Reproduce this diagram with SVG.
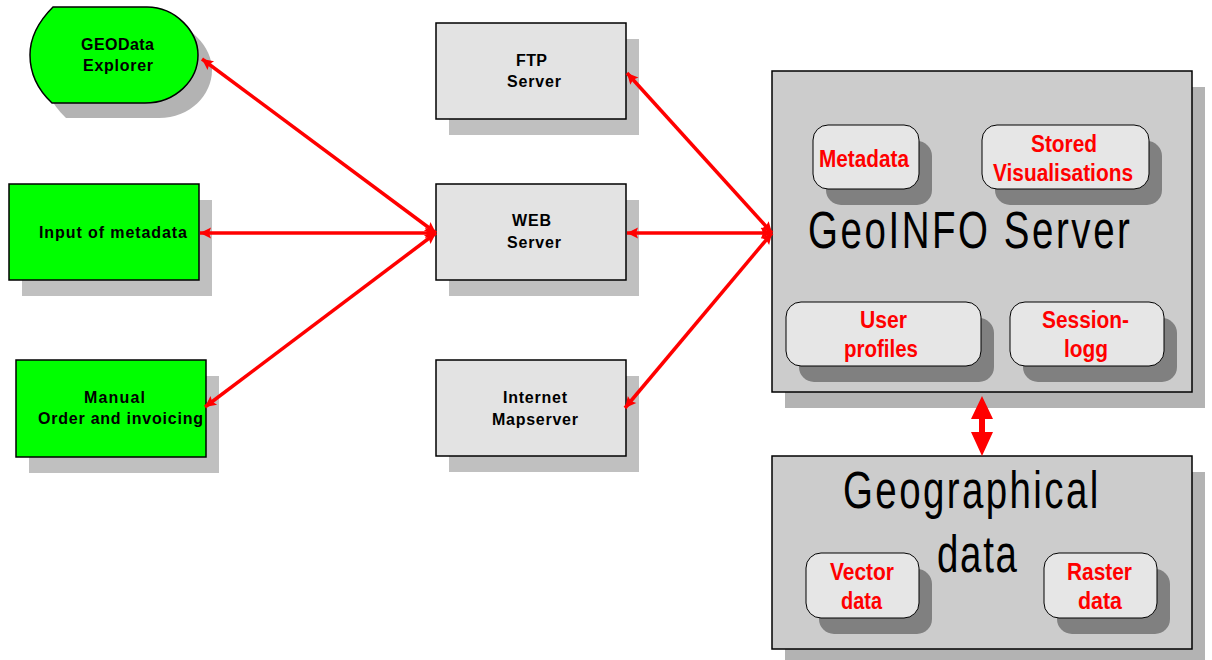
<svg xmlns="http://www.w3.org/2000/svg" width="1212" height="660" viewBox="0 0 1212 660">
<style>
.lbl{font-family:"Liberation Sans",Arial,sans-serif;font-weight:bold;font-size:16px;fill:#000}
.red{font-family:"Liberation Sans",Arial,sans-serif;font-weight:bold;font-size:23px;fill:#ff0000}
.big{font-family:"Liberation Sans",Arial,sans-serif;font-size:52px;fill:#000}
.sh{fill:#c0c0c0}
.sh2{fill:#b3b3b3}
.sh3{fill:#808080}
.green{fill:#00ff00;stroke:#000;stroke-width:1.5}
.mid{fill:#e3e3e3;stroke:#000;stroke-width:1.5}
.srv{fill:#cccccc;stroke:#000;stroke-width:1.5}
.inner{fill:#e6e6e6;stroke:#000;stroke-width:1}
.con{stroke:#ff0000;stroke-width:3.5;fill:none;marker-start:url(#ah);marker-end:url(#ah)}
</style>
<defs>
<marker id="ah" markerUnits="userSpaceOnUse" markerWidth="14" markerHeight="14" viewBox="-1 -7 14 14" refX="11" refY="0" orient="auto-start-reverse">
<path d="M0,-5.5 L11,0 L0,5.5 L2,0 Z" fill="#ff0000"/>
</marker>
</defs>
<rect width="1212" height="660" fill="#ffffff"/>

<g id="geodata-explorer">
<path class="sh2" transform="translate(14,15)" d="M53,7 L147,7 C176,7 198,32 198,55 C198,80 176,103 145,103 L52,103 C36,88 30,72 30,55 C30,38 38,22 53,7 Z"/>
<path class="green" d="M53,7 L147,7 C176,7 198,32 198,55 C198,80 176,103 145,103 L52,103 C36,88 30,72 30,55 C30,38 38,22 53,7 Z"/>
<text class="lbl" x="81" y="50" textLength="73">GEOData</text>
<text class="lbl" x="83" y="71" textLength="70">Explorer</text>
</g>

<g id="input-metadata">
<rect class="sh" x="22" y="200" width="190" height="96"/>
<rect class="green" x="9" y="184" width="190" height="96"/>
<text class="lbl" x="39" y="238" textLength="148">Input of metadata</text>
</g>

<g id="manual-order">
<rect class="sh" x="29" y="376" width="190" height="97"/>
<rect class="green" x="16" y="360" width="190" height="97"/>
<text class="lbl" x="84" y="403" textLength="61">Manual</text>
<text class="lbl" x="38" y="424" textLength="165">Order and invoicing</text>
</g>

<g id="ftp-server">
<rect class="sh" x="449" y="39" width="190" height="96"/>
<rect class="mid" x="436" y="23" width="190" height="96"/>
<text class="lbl" x="516" y="66" textLength="31">FTP</text>
<text class="lbl" x="507" y="87" textLength="54">Server</text>
</g>

<g id="web-server">
<rect class="sh" x="449" y="200" width="190" height="96"/>
<rect class="mid" x="436" y="184" width="190" height="96"/>
<text class="lbl" x="512" y="226" textLength="39">WEB</text>
<text class="lbl" x="507" y="248" textLength="54">Server</text>
</g>

<g id="internet-mapserver">
<rect class="sh" x="449" y="376" width="190" height="96"/>
<rect class="mid" x="436" y="360" width="190" height="96"/>
<text class="lbl" x="503" y="403" textLength="64">Internet</text>
<text class="lbl" x="492" y="425" textLength="86">Mapserver</text>
</g>

<g id="geoinfo-server">
<rect class="sh2" x="785" y="87" width="420" height="321"/>
<rect class="srv" x="772" y="71" width="420" height="321"/>
<text class="big" transform="translate(808,248) scale(0.74,1)" x="0" y="0" font-size="53" textLength="435">GeoINFO Server</text>
<g id="metadata">
<rect class="sh3" x="826" y="141" width="106" height="64" rx="15"/>
<rect class="inner" x="813" y="125" width="106" height="64" rx="15"/>
<text class="red" x="819" y="167" textLength="90" lengthAdjust="spacingAndGlyphs">Metadata</text>
</g>
<g id="stored-visualisations">
<rect class="sh3" x="995" y="141" width="167" height="64" rx="15"/>
<rect class="inner" x="982" y="125" width="167" height="64" rx="15"/>
<text class="red" x="1031" y="152" textLength="66" lengthAdjust="spacingAndGlyphs">Stored</text>
<text class="red" x="993" y="181" textLength="140" lengthAdjust="spacingAndGlyphs">Visualisations</text>
</g>
<g id="user-profiles">
<rect class="sh3" x="799" y="318" width="195" height="64" rx="15"/>
<rect class="inner" x="786" y="302" width="195" height="64" rx="15"/>
<text class="red" x="860" y="328" textLength="47" lengthAdjust="spacingAndGlyphs">User</text>
<text class="red" x="844" y="357" textLength="74" lengthAdjust="spacingAndGlyphs">profiles</text>
</g>
<g id="session-logg">
<rect class="sh3" x="1023" y="318" width="154" height="64" rx="15"/>
<rect class="inner" x="1010" y="302" width="154" height="64" rx="15"/>
<text class="red" x="1042" y="328" textLength="87" lengthAdjust="spacingAndGlyphs">Session-</text>
<text class="red" x="1064" y="357" textLength="44" lengthAdjust="spacingAndGlyphs">logg</text>
</g>
</g>

<g id="geographical-data">
<rect class="sh2" x="785" y="472" width="420" height="193"/>
<rect class="srv" x="772" y="456" width="420" height="193"/>
<text class="big" transform="translate(843,508) scale(0.74,1)" x="0" y="0" font-size="50" textLength="345">Geographical</text>
<text class="big" transform="translate(937,572) scale(0.74,1)" x="0" y="0" font-size="50" textLength="108">data</text>
<g id="vector-data">
<rect class="sh3" x="819" y="569" width="113" height="65" rx="15"/>
<rect class="inner" x="806" y="553" width="113" height="65" rx="15"/>
<text class="red" x="830" y="580" textLength="64" lengthAdjust="spacingAndGlyphs">Vector</text>
<text class="red" x="841" y="609" textLength="41" lengthAdjust="spacingAndGlyphs">data</text>
</g>
<g id="raster-data">
<rect class="sh3" x="1057" y="569" width="113" height="65" rx="15"/>
<rect class="inner" x="1044" y="553" width="113" height="65" rx="15"/>
<text class="red" x="1067" y="580" textLength="65" lengthAdjust="spacingAndGlyphs">Raster</text>
<text class="red" x="1078" y="609" textLength="44" lengthAdjust="spacingAndGlyphs">data</text>
</g>
</g>

<g id="connectors">
<line class="con" x1="202" y1="59" x2="436" y2="233"/>
<line class="con" x1="200" y1="233" x2="436" y2="233"/>
<line class="con" x1="205" y1="407" x2="436" y2="233"/>
<line class="con" x1="627" y1="73" x2="772" y2="233"/>
<line class="con" x1="627" y1="233" x2="772" y2="233"/>
<line class="con" x1="625" y1="408" x2="772" y2="233"/>
<polygon fill="#ff0000" points="982,396 993,419 985,419 985,432 993,432 982,456 971,432 979,432 979,419 971,419"/>
</g>
</svg>
